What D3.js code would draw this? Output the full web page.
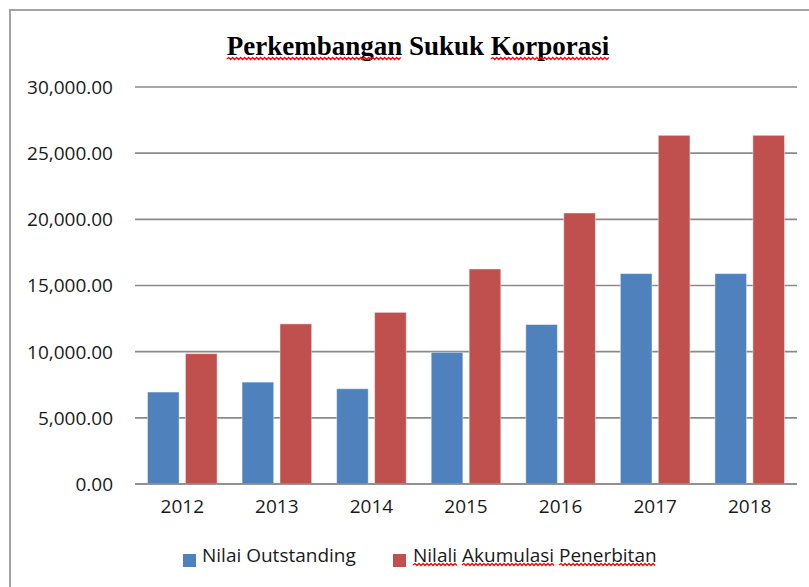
<!DOCTYPE html>
<html>
<head>
<meta charset="utf-8">
<script src="https://cdn.jsdelivr.net/npm/d3@7"></script>
<style>
  body { margin: 0; background: #fff; }
  svg { display: block; }
</style>
</head>
<body>
<div id="chart"></div>
<script>
document.addEventListener("DOMContentLoaded", function() {
  const width = 809,
        height = 587;

  // Data
  const years = ["2012", "2013", "2014", "2015", "2016", "2017", "2018"];
  const seriesNames = ["Nilai Outstanding", "Nilali Akumulasi Penerbitan"];
  const outstanding = [6950, 7700, 7200, 9950, 12050, 15900, 15900];
  const akumulasi = [9850, 12100, 12970, 16250, 20480, 26350, 26350];
  const yTicks = [0, 5000, 10000, 15000, 20000, 25000, 30000];

  const colors = ["#4F81BD", "#C0504D"];
  const fmt = d3.format(",.2f");
  const labelFont = "'Open Sans', 'Noto Sans', sans-serif";

  const svg = d3.select("#chart")
    .append("svg")
      .attr("width", width)
      .attr("height", height);

  svg.append("rect")
    .attr("width", width)
    .attr("height", height)
    .attr("fill", "#fff");

  // Chart frame (only left and top edges are in view)
  svg.append("path")
    .attr("d", `M10,${height + 5} V10 H${width + 5}`)
    .attr("fill", "none")
    .attr("stroke", "#a3a3a3")
    .attr("stroke-width", 2);

  // Scales
  const x = d3.scaleBand()
    .domain(years)
    .range([135, 797])
    .paddingInner(0.264)
    .paddingOuter(0.132);

  const xInner = d3.scaleBand()
    .domain([0, 1])
    .range([0, x.bandwidth()])
    .paddingInner(0.166);

  const y = d3.scaleLinear()
    .domain([0, 30000])
    .range([484, 87]);

  // Gridlines
  svg.append("g")
    .selectAll("line")
    .data(yTicks)
    .join("line")
      .attr("x1", 135)
      .attr("x2", 797)
      .attr("y1", d => y(d))
      .attr("y2", d => y(d))
      .attr("stroke", "#8a8a8a")
      .attr("stroke-width", 1.6);

  // Y tick labels
  svg.append("g")
    .selectAll("text")
    .data(yTicks)
    .join("text")
      .attr("x", 113)
      .attr("y", d => y(d))
      .attr("dy", "0.36em")
      .attr("text-anchor", "end")
      .style("font", `19px ${labelFont}`)
      .attr("fill", "#1a1a1a")
      .text(d => fmt(d));

  // Bars
  const rows = years.map((yr, i) => ({ year: yr, values: [outstanding[i], akumulasi[i]] }));

  const groups = svg.append("g")
    .selectAll("g")
    .data(rows)
    .join("g")
      .attr("transform", d => `translate(${x(d.year)},0)`);

  groups.selectAll("rect")
    .data(d => d.values.map((v, k) => ({ k, v })))
    .join("rect")
      .attr("x", d => xInner(d.k))
      .attr("width", xInner.bandwidth())
      .attr("y", d => y(d.v))
      .attr("height", d => y(0) - y(d.v))
      .attr("fill", d => colors[d.k])
      .attr("stroke", "rgba(255,255,255,0.45)")
      .attr("stroke-width", 1);

  // Baseline redrawn over bars
  svg.append("line")
    .attr("x1", 135).attr("x2", 797)
    .attr("y1", y(0)).attr("y2", y(0))
    .attr("stroke", "#8a8a8a")
    .attr("stroke-width", 1.6);

  // X labels
  svg.append("g")
    .selectAll("text")
    .data(years)
    .join("text")
      .attr("x", d => x(d) + x.bandwidth() / 2)
      .attr("y", 513)
      .attr("text-anchor", "middle")
      .style("font", `19px ${labelFont}`)
      .attr("fill", "#1a1a1a")
      .text(d => d);

  // Wavy spell-check underline helper
  function wavy(x0, x1, yy) {
    let d = `M${x0},${yy}`;
    let up = true;
    for (let xx = x0 + 2; xx <= x1; xx += 2) {
      d += ` L${xx},${up ? yy - 1.5 : yy + 0.5}`;
      up = !up;
    }
    return d;
  }

  // Title
  const title = svg.append("text")
    .attr("x", 418)
    .attr("y", 55)
    .attr("text-anchor", "middle")
    .style("font", "bold 27px 'Liberation Serif', 'Times New Roman', serif")
    .attr("fill", "#000");
  const titleWords = ["Perkembangan", "Sukuk", "Korporasi"];
  titleWords.forEach((w, i) => {
    title.append("tspan").text((i ? " " : "") + w);
  });

  // Legend
  const legendX = [183, 393];
  const legend = svg.append("g")
    .selectAll("g")
    .data(seriesNames)
    .join("g")
      .attr("transform", (d, i) => `translate(${legendX[i]},554)`);

  legend.append("rect")
    .attr("width", 13)
    .attr("height", 13)
    .attr("fill", (d, i) => colors[i]);

  legend.append("text")
    .attr("x", (d, i) => i === 0 ? 19 : 20)
    .attr("y", 8)
    .style("font", `19px ${labelFont}`)
    .attr("fill", "#1a1a1a")
    .text(d => d);

  // Red squiggles under words flagged by the spell checker
  const squiggle = svg.append("g")
    .attr("fill", "none")
    .attr("stroke", "#e01010")
    .attr("stroke-width", 1.3);

  const tspans = title.selectAll("tspan").nodes();
  [0, 2].forEach(i => {
    const node = tspans[i];
    const n = node.getNumberOfChars();
    const start = node.getStartPositionOfChar(i ? 1 : 0).x;
    const end = node.getEndPositionOfChar(n - 1).x;
    squiggle.append("path").attr("d", wavy(start, end, 59));
  });

  const redLabel = legend.filter((d, i) => i === 1).select("text").node();
  const text = seriesNames[1];
  let pos = 0;
  text.split(" ").forEach(w => {
    const s = redLabel.getStartPositionOfChar(pos).x + legendX[1];
    const e = redLabel.getEndPositionOfChar(pos + w.length - 1).x + legendX[1];
    squiggle.append("path").attr("d", wavy(s, e, 565));
    pos += w.length + 1;
  });
});
</script>
</body>
</html>
